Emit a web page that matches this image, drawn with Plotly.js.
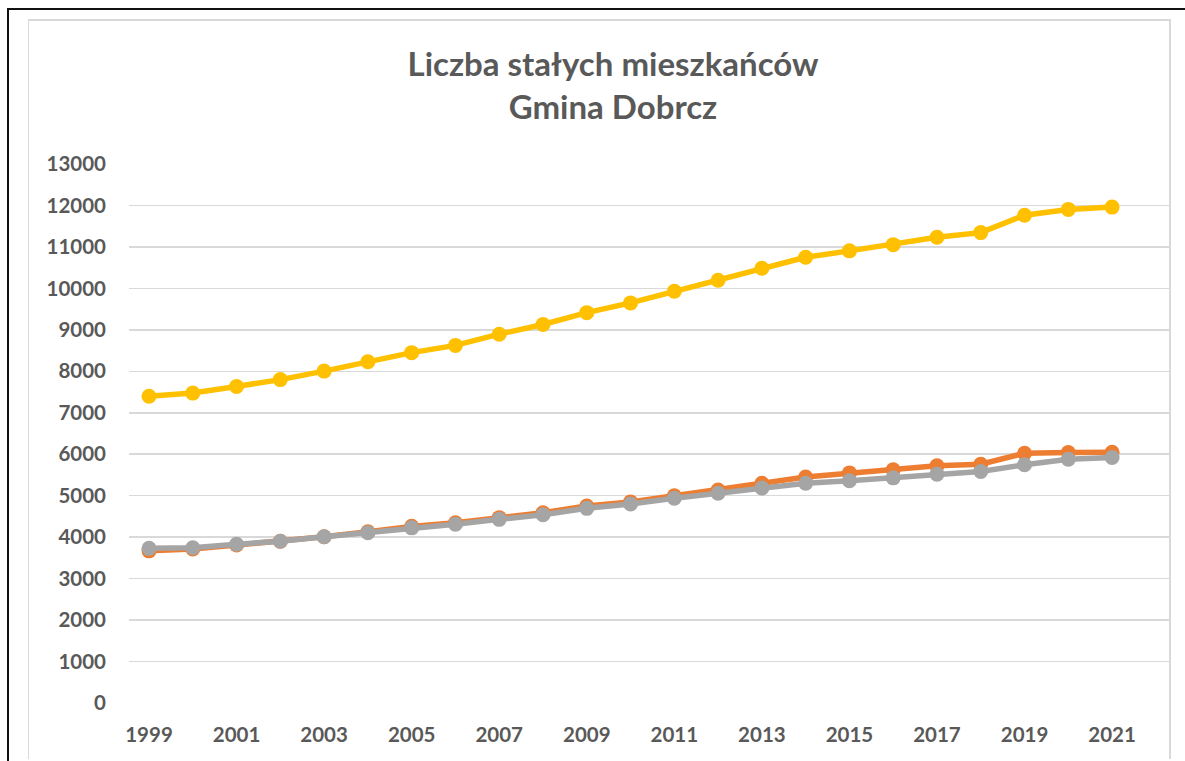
<!DOCTYPE html>
<html>
<head>
<meta charset="utf-8">
<script src="https://cdn.plot.ly/plotly-3.0.1.min.js"></script>
<style>
  html, body { margin: 0; padding: 0; background: #ffffff; }
  #wrap { position: relative; width: 1185px; height: 761px; overflow: hidden; }
  #chart { position: absolute; left: 0; top: 0; width: 1185px; height: 761px; }
  .outer { position: absolute; left: 7px; top: 8px; width: 1200px; height: 800px;
           border-left: 2px solid #111; border-top: 2px solid #111; pointer-events: none; }
  .inner { position: absolute; left: 28px; top: 19px; width: 1140px; height: 738px;
           border-left: 1px solid #d9d9d9; border-top: 2px solid #d9d9d9; border-right: 2px solid #d9d9d9; pointer-events: none; }
</style>
</head>
<body>
<div id="wrap">
  <div id="chart"></div>
  <div class="outer"></div>
  <div class="inner"></div>
</div>
<script>
const years = [1999,2000,2001,2002,2003,2004,2005,2006,2007,2008,2009,2010,2011,2012,2013,2014,2015,2016,2017,2018,2019,2020,2021];
const totalSeries = [7400,7475,7635,7800,8005,8230,8450,8625,8895,9130,9415,9650,9930,10195,10485,10750,10905,11055,11235,11345,11765,11905,11960];
const orangeSeries = [3670,3715,3810,3900,4010,4130,4260,4345,4470,4590,4750,4850,5000,5135,5300,5450,5550,5625,5720,5760,6025,6040,6045];
const graySeries = [3730,3745,3830,3900,4010,4105,4225,4310,4430,4540,4695,4800,4940,5060,5185,5300,5360,5430,5520,5585,5745,5880,5920];
const xTickVals = [1999,2001,2003,2005,2007,2009,2011,2013,2015,2017,2019,2021];
const yTickVals = [0,1000,2000,3000,4000,5000,6000,7000,8000,9000,10000,11000,12000,13000];

function series(y, color) {
  return {
    x: years, y: y, type: 'scatter', mode: 'lines+markers',
    line: {color: color, width: 5.5},
    marker: {color: color, size: 15},
    hoverinfo: 'x+y'
  };
}

const data = [
  series(totalSeries, '#FFC000'),
  series(orangeSeries, '#ED7D31'),
  series(graySeries, '#A5A5A5')
];

const layout = {
  width: 1185, height: 761,
  margin: {l: 129, r: 16, t: 164, b: 58, pad: 0},
  paper_bgcolor: '#ffffff', plot_bgcolor: '#ffffff',
  showlegend: false,
  title: {
    text: 'Liczba stałych mieszkańców<br>Gmina Dobrcz',
    font: {family: 'Lato, sans-serif', size: 33, color: '#595959', weight: 'bold'},
    x: 613/1185, xanchor: 'center', xref: 'container',
    y: 1 - 76/761, yanchor: 'top', yref: 'container'
  },
  xaxis: {
    type: 'linear', range: [1998.543, 2022.30],
    tickmode: 'array', tickvals: xTickVals, ticktext: xTickVals.map(String),
    showgrid: false, zeroline: false, showline: false, ticks: '',
    ticklabelstandoff: 17,
    tickfont: {family: 'Lato, sans-serif', size: 20.5, color: '#595959', weight: 'bold'}
  },
  yaxis: {
    range: [0, 13000],
    tickmode: 'array', tickvals: yTickVals, ticktext: yTickVals.map(String),
    showgrid: true, gridcolor: '#d9d9d9', gridwidth: 1.5,
    zeroline: false, showline: false, ticks: '',
    ticklabelstandoff: 22,
    tickfont: {family: 'Lato, sans-serif', size: 20.5, color: '#595959', weight: 'bold'}
  }
};

Plotly.newPlot('chart', data, layout, {displayModeBar: false, staticPlot: true});
</script>
</body>
</html>
